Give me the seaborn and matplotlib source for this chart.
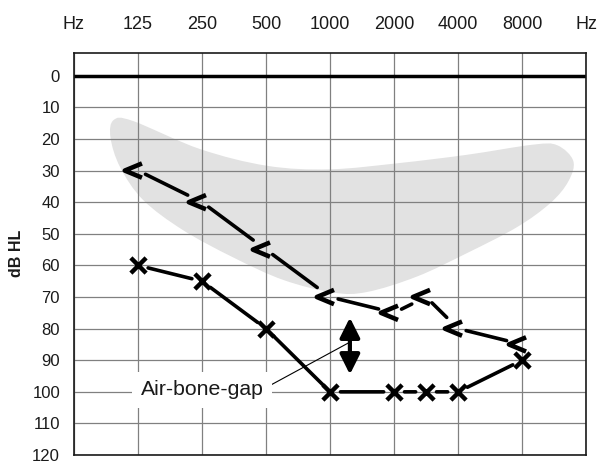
import numpy as np
import matplotlib
matplotlib.use("Agg")
import matplotlib.pyplot as plt
from matplotlib.path import Path
from matplotlib.markers import MarkerStyle
from matplotlib.patches import PathPatch
import seaborn as sns

sns.set_style("white")
plt.rcParams["font.family"] = ["Liberation Sans", "DejaVu Sans"]

# ---------------- data ----------------
top_labels = ["Hz", "125", "250", "500", "1000", "2000", "4000", "8000", "Hz"]
octave_freqs = [125, 250, 500, 1000, 2000, 4000, 8000]
db_ticks = list(range(0, 121, 10))

air_freqs = [125, 250, 500, 1000, 2000, 3000, 4000, 8000]
air_db = [60, 65, 80, 100, 100, 100, 100, 90]

bone_freqs = [125, 250, 500, 1000, 2000, 3000, 4000, 8000]
bone_db = [30, 40, 55, 70, 75, 70, 80, 85]

gap_label = "Air-bone-gap"
gap_arrow_freq = 1310
gap_arrow_db = (76.5, 94.5)
gap_pointer = (1280, 84.6)
gap_text_pos = (250, 99.4)

# speech-banana outline (frequency-axis position, dB HL)
banana_x = [0.62, 0.92, 1.97, 3.02, 4.0, 5.09, 6.14, 7.17, 7.55, 7.80, 7.72,
            7.44, 6.92, 6.14, 5.36, 4.58, 4.05, 3.27, 2.48, 1.70, 1.08, 0.72, 0.57]
banana_y = [14.0, 14.3, 23.2, 28.5, 29.6, 27.6, 25.0, 21.8, 22.0, 27.0, 33.5,
            40.3, 47.9, 56.1, 63.5, 68.4, 68.6, 64.6, 57.4, 48.8, 39.3, 28.9, 19.5]


def fpos(f):
    """frequency -> audiogram column position (linear inside each octave)"""
    return np.interp(f, octave_freqs, np.arange(1, len(octave_freqs) + 1))


# ---------------- figure ----------------
fig = plt.figure(figsize=(5.99, 4.62), dpi=100)
ax = fig.add_axes([0.1235, 0.015, 0.855, 0.871])

# speech banana (closed Catmull-Rom curve)
pts = np.column_stack([banana_x, banana_y])
n = len(pts)
verts = [pts[0]]
codes = [Path.MOVETO]
for i in range(n):
    p0, p1, p2, p3 = pts[i - 1], pts[i], pts[(i + 1) % n], pts[(i + 2) % n]
    verts += [p1 + (p2 - p0) / 6, p2 - (p3 - p1) / 6, p2]
    codes += [Path.CURVE4] * 3
ax.add_patch(PathPatch(Path(verts, codes), fc="#e2e2e2", ec="none", zorder=0.2))

ax.set_xlim(0, 8)
ax.set_ylim(120, -7.3)
ax.set_axisbelow(True)
ax.grid(True, color="#808080", lw=0.9)
ax.axhline(0, color="black", lw=2.5, zorder=2)

ax.xaxis.tick_top()
ax.set_xticks(range(len(top_labels)))
ax.set_xticklabels(top_labels)
ax.set_yticks(db_ticks)
ax.tick_params(axis="x", length=0, pad=14, labelsize=13, colors="#1a1a1a")
ax.tick_params(axis="y", length=0, pad=10, labelsize=12, colors="#1a1a1a")
ax.set_ylabel("dB HL", fontsize=11.5, fontweight="bold", color="#1a1a1a")
ax.yaxis.set_label_coords(-0.098, 0.5)
for sp in ax.spines.values():
    sp.set_color("#1a1a1a")
    sp.set_linewidth(1.2)

ax_x = fpos(air_freqs)
bx = fpos(bone_freqs)

# connecting segments (broken around markers)
for i in range(len(ax_x) - 1):
    ax.annotate("", xy=(ax_x[i + 1], air_db[i + 1]), xytext=(ax_x[i], air_db[i]),
                arrowprops=dict(arrowstyle="-", lw=2.6, color="black",
                                shrinkA=7.5, shrinkB=7.5), zorder=4)
for i in range(len(bx) - 1):
    ax.annotate("", xy=(bx[i + 1], bone_db[i + 1]), xytext=(bx[i], bone_db[i]),
                arrowprops=dict(arrowstyle="-", lw=2.6, color="black",
                                shrinkA=6, shrinkB=11.5), zorder=4)

# markers
sns.scatterplot(x=ax_x, y=air_db, marker="x", s=120, linewidth=3.2,
                color="black", ax=ax, zorder=5)
bone_marker = MarkerStyle(Path([(0.15, 0.27), (-0.5, 0.0), (0.15, -0.27)],
                               [Path.MOVETO, Path.LINETO, Path.LINETO]),
                          fillstyle="none")
sns.scatterplot(x=bx, y=bone_db, marker=bone_marker, s=19 ** 2, linewidth=3.3,
                color="black", ax=ax, zorder=5)

# air-bone gap arrow + label
ga = fpos(gap_arrow_freq)
ax.annotate("", xy=(ga, gap_arrow_db[1]), xytext=(ga, gap_arrow_db[0]),
            arrowprops=dict(arrowstyle="<|-|>,head_length=1.0,head_width=0.5",
                            mutation_scale=12, lw=3, color="black",
                            shrinkA=0, shrinkB=0), zorder=6)
ax.annotate(gap_label, xy=(fpos(gap_pointer[0]), gap_pointer[1]),
            xytext=(fpos(gap_text_pos[0]), gap_text_pos[1]),
            ha="center", va="center", fontsize=15.3, color="#1a1a1a",
            bbox=dict(boxstyle="square,pad=0.4", fc="white", ec="none"),
            arrowprops=dict(arrowstyle="-", lw=0.8, color="black",
                            relpos=(1.0, 0.55), shrinkA=0, shrinkB=0),
            zorder=6)

fig.savefig("out.png", dpi=100)
